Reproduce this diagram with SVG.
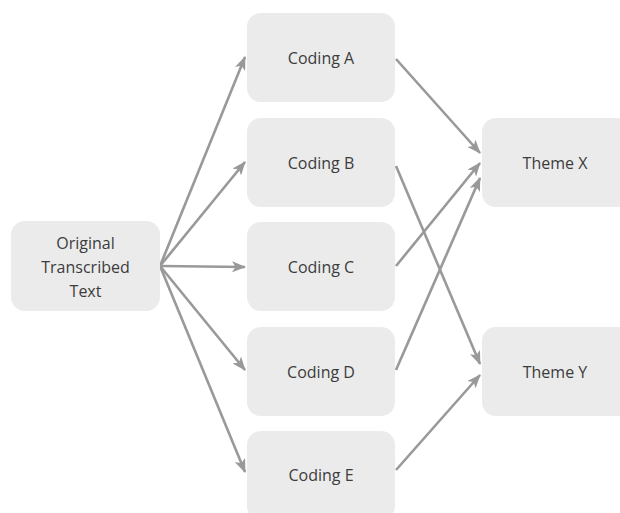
<svg xmlns="http://www.w3.org/2000/svg" width="620" height="513" viewBox="0 0 620 513">
  <style>
    .box { fill: #ebebeb; }
    .lbl { font-family: "Open Sans", "Noto Sans", sans-serif; font-size: 16px; fill: #3c3c3c; text-anchor: middle; dominant-baseline: central; }
    .edge { stroke: #999999; stroke-width: 2.6; fill: none; marker-end: url(#arrow); }
  </style>
  <defs>
    <marker id="arrow" viewBox="0 0 14 11" refX="13" refY="5.5" markerWidth="14" markerHeight="11" markerUnits="userSpaceOnUse" orient="auto">
      <path d="M0,0 L14,5.5 L0,11 L3.5,5.5 Z" fill="#999999"/>
    </marker>
  </defs>
  <rect width="620" height="513" fill="#ffffff"/>

  <g id="connectors">
    <line class="edge" x1="160" y1="266" x2="245" y2="57"/>
    <line class="edge" x1="160" y1="266" x2="245" y2="162"/>
    <line class="edge" x1="160" y1="266" x2="245" y2="267"/>
    <line class="edge" x1="160" y1="266" x2="245" y2="370"/>
    <line class="edge" x1="160" y1="266" x2="245" y2="472"/>
    <line class="edge" x1="396" y1="59" x2="480" y2="153"/>
    <line class="edge" x1="396" y1="166" x2="480" y2="364"/>
    <line class="edge" x1="396" y1="266" x2="480" y2="163"/>
    <line class="edge" x1="396" y1="370" x2="480" y2="178"/>
    <line class="edge" x1="396" y1="470" x2="480" y2="375"/>
  </g>

  <g id="original">
    <rect class="box" x="11" y="221" width="149" height="90" rx="14"/>
    <text class="lbl" x="85.5" y="243">Original</text>
    <text class="lbl" x="85.5" y="267">Transcribed</text>
    <text class="lbl" x="85.5" y="291">Text</text>
  </g>

  <g id="coding-a">
    <rect class="box" x="247" y="13" width="148" height="89" rx="14"/>
    <text class="lbl" x="321" y="58">Coding A</text>
  </g>
  <g id="coding-b">
    <rect class="box" x="247" y="118" width="148" height="89" rx="14"/>
    <text class="lbl" x="321" y="163">Coding B</text>
  </g>
  <g id="coding-c">
    <rect class="box" x="247" y="222" width="148" height="89" rx="14"/>
    <text class="lbl" x="321" y="267">Coding C</text>
  </g>
  <g id="coding-d">
    <rect class="box" x="247" y="327" width="148" height="89" rx="14"/>
    <text class="lbl" x="321" y="372">Coding D</text>
  </g>
  <g id="coding-e">
    <rect class="box" x="247" y="431" width="148" height="89" rx="14"/>
    <text class="lbl" x="321" y="475">Coding E</text>
  </g>

  <g id="theme-x">
    <rect class="box" x="482" y="118" width="150" height="89" rx="14"/>
    <text class="lbl" x="555" y="163">Theme X</text>
  </g>
  <g id="theme-y">
    <rect class="box" x="482" y="327" width="150" height="89" rx="14"/>
    <text class="lbl" x="555" y="372">Theme Y</text>
  </g>
</svg>
